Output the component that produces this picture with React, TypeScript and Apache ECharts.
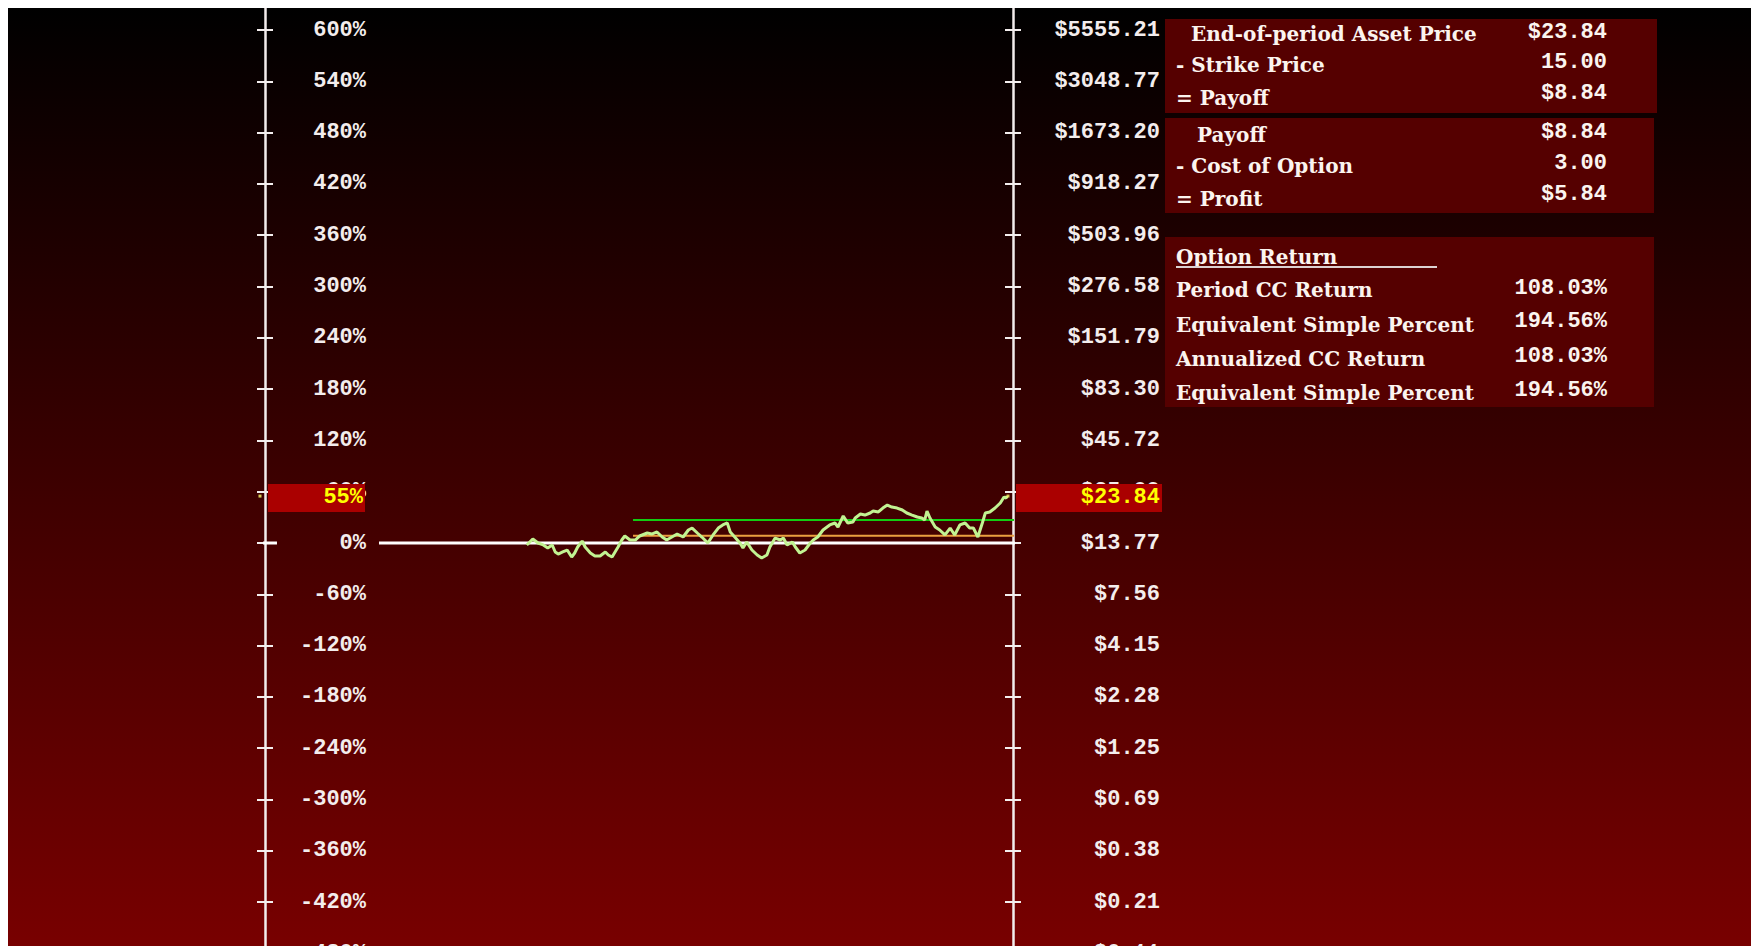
import React, { useEffect, useRef } from 'react';
import * as echarts from 'echarts';

// ---------- data ----------
const START_PRICE = 13.77;
const STRIKE_PRICE = 15.0;
const OPTION_COST = 3.0;
const END_PRICE = 23.84;
const END_PCT_LABEL = '55%';
const END_PRICE_LABEL = '$23.84';

const PCT_TICKS = [-540, -480, -420, -360, -300, -240, -180, -120, -60, 0, 60, 120, 180, 240, 300, 360, 420, 480, 540, 600];

// time (0..100 of the period axis) and continuously-compounded return (%) of the asset path
const PATH_TIME = [
  35.0, 35.8, 36.5, 37.2, 37.8, 38.4, 38.8, 39.2, 39.8, 40.4, 41.0, 41.4, 41.8, 42.4, 42.8, 43.5, 44.1, 44.8, 45.5, 45.9,
  46.4, 46.8, 47.2, 47.7, 48.1, 48.8, 49.5, 50.1, 51.1, 51.7, 52.4, 53.1, 53.7, 54.4, 55.1, 55.9, 56.6, 57.1, 57.8, 58.4,
  59.2, 59.9, 60.6, 61.2, 61.8, 62.2, 62.8, 63.5, 63.9, 64.4, 65.1, 65.8, 66.4, 67.1, 67.5, 68.2, 68.9, 69.3, 69.8, 70.5,
  70.9, 71.5, 72.2, 72.9, 73.3, 73.9, 74.6, 75.5, 76.2, 76.6, 77.3, 77.9, 78.6, 78.9, 79.6, 80.2, 80.9, 81.3, 82.0, 82.6,
  83.2, 83.8, 84.5, 85.2, 85.8, 86.5, 87.2, 87.8, 88.2, 88.5, 88.9, 89.6, 90.2, 90.9, 91.6, 92.2, 92.9, 93.6, 94.2, 94.7,
  95.3, 95.9, 96.3, 96.9, 97.6, 98.3, 98.8, 99.1, 99.2,
];
const PATH_PCT = [
  -2.3, 4.7, 0, -2.3, -5.8, -2.3, -10.5, -12.9, -10.5, -8.2, -16.4, -11.7, -4.7, 2.3, -4.7, -11.7, -15.2, -15.2, -10.5, -14.0,
  -16.4, -10.5, -4.7, 3.5, 8.2, 3.5, 3.5, 8.2, 11.7, 10.5, 12.9, 7.0, 3.5, 7.0, 10.5, 7.0, 15.2, 17.5, 11.7, 7.0,
  0, 9.4, 17.5, 21.1, 23.4, 12.9, 7.0, 0, -5.8, 1.2, -8.2, -14.0, -17.5, -14.0, -4.7, 5.8, 3.5, 5.8, -2.3, 1.2,
  -4.7, -11.7, -8.2, 0, 3.5, 7.0, 15.2, 21.1, 23.4, 18.7, 31.6, 23.4, 24.6, 29.2, 33.9, 32.7, 35.1, 37.4, 36.3, 40.9,
  44.4, 42.1, 40.9, 38.6, 35.1, 32.7, 30.4, 29.2, 26.9, 37.4, 29.2, 18.7, 15.2, 9.4, 17.5, 9.4, 21.1, 23.4, 17.5, 17.5,
  7.0, 23.4, 35.1, 36.3, 40.9, 46.8, 53.8, 52.6, 54.9,
];

const GUIDE_TIME = [49.2, 101.3];
const ZERO_LINE_TIME = [-36, 1.6, 8, 15.24, 101.74];
const MARKER_TIME = [-0.67, 99.33];

const PANEL_1_LABELS = ['End-of-period Asset Price', '- Strike Price', '= Payoff'];
const PANEL_1_VALUES = ['$23.84', '15.00', '$8.84'];
const PANEL_2_LABELS = ['Payoff', '- Cost of Option', '= Profit'];
const PANEL_2_VALUES = ['$8.84', '3.00', '$5.84'];
const RETURN_TITLE = 'Option Return';
const RETURN_LABELS = ['Period CC Return', 'Equivalent Simple Percent', 'Annualized CC Return', 'Equivalent Simple Percent'];
const RETURN_VALUES = ['108.03%', '194.56%', '108.03%', '194.56%'];

// ---------- layout ----------
const PX_PER_PCT = 51.3 / 60;
const ZERO_Y = 535;
const Y_MIN = -540;
const Y_MAX = ZERO_Y / PX_PER_PCT;
const GRID_H = ZERO_Y - Y_MIN * PX_PER_PCT;

const AXIS_COLOR = '#f3eded';
const MONO = { fontFamily: 'Liberation Mono', fontWeight: 'bold' as const, fontSize: 22 };
const SERIF = { fontFamily: 'DejaVu Serif', fontWeight: 'bold' as const, fontSize: 20 };

const pctOf = (price: number) => 100 * Math.log(price / START_PRICE);

function txt(text: string, x: number, y: number, align: string, font: any, fill: string) {
  return {
    type: 'text',
    x,
    y,
    z: 101,
    silent: true,
    style: {
      text,
      fill,
      ...font,
      align,
      textAlign: align,
      verticalAlign: 'middle',
      textVerticalAlign: 'middle',
    },
  };
}

function rect(x: number, y: number, w: number, h: number, fill: string) {
  return { type: 'rect', z: 100, silent: true, shape: { x, y, width: w, height: h }, style: { fill } };
}

export default function App() {
  const ref = useRef<HTMLDivElement>(null);

  useEffect(() => {
    if (!ref.current) return;
    const chart = echarts.init(ref.current, undefined, { renderer: 'svg' });
    const endPct = pctOf(END_PRICE);
    const breakEvenPct = pctOf(STRIKE_PRICE + OPTION_COST);
    const strikePct = pctOf(STRIKE_PRICE);

    const baseY = {
      type: 'value',
      min: Y_MIN,
      max: Y_MAX,
      interval: 60,
      splitLine: { show: false },
    };
    const tickStyle = { color: AXIS_COLOR, width: 2 };
    const lineStyle = { color: AXIS_COLOR, width: 2.5 };

    const option: any = {
      animation: false,
      backgroundColor: 'transparent',
      grid: {
        left: 257,
        top: 0,
        width: 748,
        height: GRID_H,
        containLabel: false,
        outerBoundsMode: 'none',
      },
      xAxis: { type: 'value', min: 0, max: 100, show: false },
      yAxis: [
        {
          ...baseY,
          position: 'left',
          axisLine: { show: true, onZero: false, lineStyle },
          axisTick: { show: true, inside: false, length: 8, customValues: PCT_TICKS, lineStyle: tickStyle },
          axisLabel: {
            show: true,
            inside: true,
            align: 'right',
            margin: 101,
            customValues: PCT_TICKS,
            hideOverlap: false,
            formatter: (v: number) => `${Math.round(v)}%`,
            color: AXIS_COLOR,
            ...MONO,
          },
        },
        {
          ...baseY,
          position: 'left',
          axisLine: { show: false, onZero: false },
          axisTick: { show: true, inside: true, length: 8, customValues: PCT_TICKS, lineStyle: tickStyle },
          axisLabel: { show: false },
        },
        {
          ...baseY,
          position: 'right',
          axisLine: { show: true, onZero: false, lineStyle },
          axisTick: { show: true, inside: false, length: 8, customValues: PCT_TICKS, lineStyle: tickStyle },
          axisLabel: {
            show: true,
            inside: false,
            align: 'right',
            margin: 147,
            customValues: PCT_TICKS,
            hideOverlap: false,
            formatter: (v: number) => '$' + (START_PRICE * Math.exp(v / 100)).toFixed(2),
            color: AXIS_COLOR,
            ...MONO,
          },
        },
        {
          ...baseY,
          position: 'right',
          axisLine: { show: false, onZero: false },
          axisTick: { show: true, inside: true, length: 8, customValues: PCT_TICKS, lineStyle: tickStyle },
          axisLabel: { show: false },
        },
      ],
      series: [
        {
          type: 'line',
          name: 'Start level',
          data: [
            [ZERO_LINE_TIME[0], 0],
            [ZERO_LINE_TIME[1], 0],
            [ZERO_LINE_TIME[2], '-'],
            [ZERO_LINE_TIME[3], 0],
            [ZERO_LINE_TIME[4], 0],
          ],
          symbol: 'none',
          clip: false,
          silent: true,
          z: 2,
          lineStyle: { color: '#ffffff', width: 3 },
        },
        {
          type: 'line',
          name: 'Break-even',
          data: GUIDE_TIME.map((t) => [t, breakEvenPct]),
          symbol: 'none',
          clip: false,
          silent: true,
          z: 3,
          lineStyle: { color: '#12cc12', width: 2 },
        },
        {
          type: 'line',
          name: 'Strike',
          data: GUIDE_TIME.map((t) => [t, strikePct]),
          symbol: 'none',
          clip: false,
          silent: true,
          z: 3,
          lineStyle: { color: '#eca040', width: 2 },
        },
        {
          type: 'line',
          name: 'Asset price',
          data: PATH_TIME.map((t, i) => [t, PATH_PCT[i]]),
          symbol: 'none',
          clip: false,
          silent: true,
          z: 5,
          lineStyle: { color: '#c2f392', width: 3 },
        },
        {
          type: 'scatter',
          name: 'End marker',
          data: MARKER_TIME.map((t) => [t, endPct]),
          symbol: 'rect',
          symbolSize: 3,
          clip: false,
          silent: true,
          z: 6,
          itemStyle: { color: '#ffff70' },
        },
      ],
    };
    chart.setOption(option);

    const yEnd = chart.convertToPixel({ yAxisIndex: 0 }, endPct) as number;
    const white = '#fbf4ef';
    const VALUE_X = 1599;
    const graphics: any[] = [];

    // current value boxes on both axes
    graphics.push(rect(260, yEnd - 12, 97, 28, '#aa0000'));
    graphics.push(txt(END_PCT_LABEL, 355, yEnd + 1, 'right', MONO, '#ffff00'));
    graphics.push(rect(1008, yEnd - 12, 146, 28, '#aa0000'));
    graphics.push(txt(END_PRICE_LABEL, 1152, yEnd + 1, 'right', MONO, '#ffff00'));

    // panels
    graphics.push(rect(1157, 11, 492, 94, '#550000'));
    graphics.push(rect(1157, 110, 489, 95, '#550000'));
    graphics.push(rect(1157, 229, 489, 170, '#550000'));

    const p1LabelX = [1183, 1168, 1168];
    const p1LabelY = [26, 57, 90];
    const p1ValueY = [24, 54.5, 85];
    PANEL_1_LABELS.forEach((l, i) => {
      graphics.push(txt(l, p1LabelX[i], p1LabelY[i], 'left', SERIF, white));
      graphics.push(txt(PANEL_1_VALUES[i], VALUE_X, p1ValueY[i], 'right', MONO, white));
    });

    const p2LabelX = [1189, 1168, 1168];
    const p2LabelY = [127, 158, 191];
    const p2ValueY = [124.5, 155.5, 186];
    PANEL_2_LABELS.forEach((l, i) => {
      graphics.push(txt(l, p2LabelX[i], p2LabelY[i], 'left', SERIF, white));
      graphics.push(txt(PANEL_2_VALUES[i], VALUE_X, p2ValueY[i], 'right', MONO, white));
    });

    graphics.push(txt(RETURN_TITLE, 1168, 249, 'left', SERIF, white));
    graphics.push({
      type: 'line',
      z: 101,
      silent: true,
      shape: { x1: 1168, y1: 259, x2: 1429, y2: 259 },
      style: { stroke: '#dcd2d2', lineWidth: 2 },
    });
    const p3LabelY = [282, 317, 351, 385];
    const p3ValueY = [280, 313.7, 348, 382];
    RETURN_LABELS.forEach((l, i) => {
      graphics.push(txt(l, 1168, p3LabelY[i], 'left', SERIF, white));
      graphics.push(txt(RETURN_VALUES[i], VALUE_X, p3ValueY[i], 'right', MONO, white));
    });

    chart.setOption({ graphic: graphics });

    return () => {
      chart.dispose();
    };
  }, []);

  return (
    <div
      ref={ref}
      style={{
        position: 'fixed',
        left: 8,
        top: 8,
        width: 1743,
        height: 1000,
        background: 'linear-gradient(to bottom, #000000 0%, #800000 100%)',
      }}
    />
  );
}
